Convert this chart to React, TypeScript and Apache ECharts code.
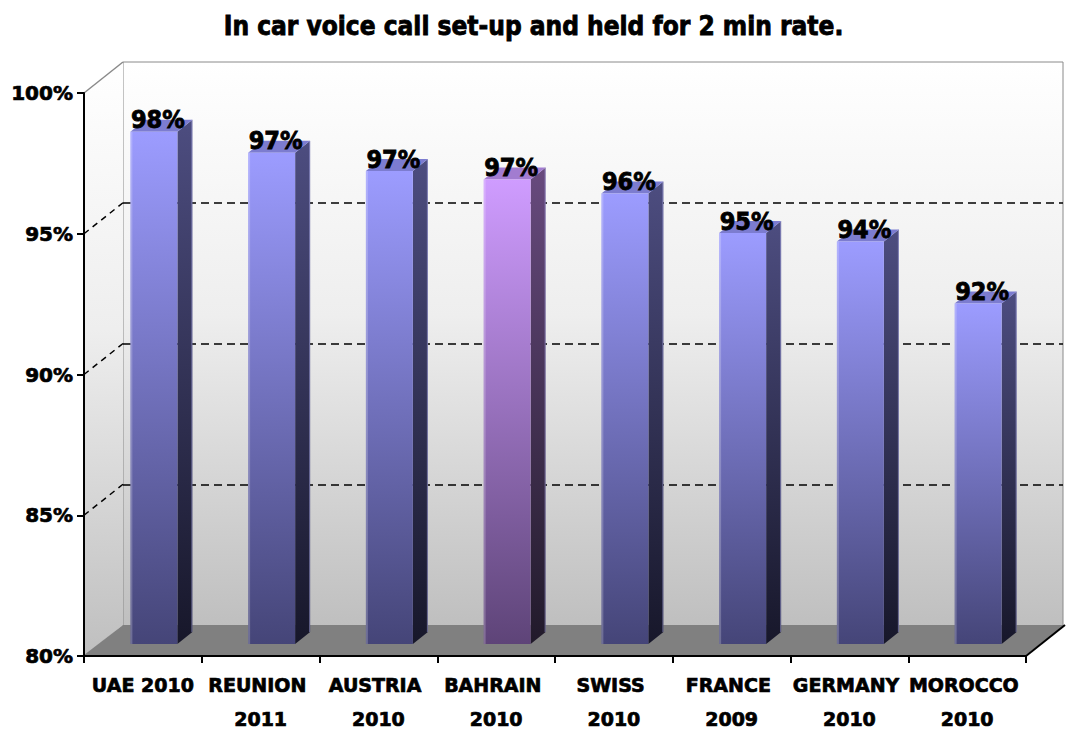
import { useEffect, useRef } from "react";
import * as echarts from "echarts";

const TITLE = "In car voice call set-up and held for 2 min rate.";
const categories = [
  "UAE 2010",
  "REUNION 2011",
  "AUSTRIA 2010",
  "BAHRAIN 2010",
  "SWISS 2010",
  "FRANCE 2009",
  "GERMANY 2010",
  "MOROCCO 2010",
];
const values = [98.2, 97.45, 96.8, 96.5, 96.0, 94.6, 94.3, 92.1];
const highlighted = [false, false, false, true, false, false, false, false];
const Y_MIN = 80;
const Y_MAX = 100;
const Y_STEP = 5;
const wallTicks = [85, 90, 95];

// 3D layout constants (oblique projection)
const DX = 39; // depth of the chart box
const DY = -31;
const BX = 11; // bar front plane offset
const BY = -12;
const BW = 47; // bar front width
const BDX = 15; // bar depth
const BDY = -12;

const PALETTE = {
  normal: { frontTop: "#9c9cff", frontBottom: "#454578", sideTop: "#4d4d80", sideBottom: "#17172a", top: "#7c7cd0" },
  hi: { frontTop: "#cf9cff", frontBottom: "#5e4478", sideTop: "#684a7e", sideBottom: "#211a2a", top: "#a27cd0" },
};

const FONT = "DejaVu Sans";
const FONT_C = "DejaVu Sans Condensed";

export default function App() {
  const ref = useRef<HTMLDivElement>(null);
  useEffect(() => {
    if (!ref.current) return;
    const chart = echarts.init(ref.current, undefined, { renderer: "svg" });
    const lg = (a: string, b: string) =>
      new echarts.graphic.LinearGradient(0, 0, 0, 1, [
        { offset: 0, color: a },
        { offset: 1, color: b },
      ]);
    const wallGrad = () =>
      new echarts.graphic.LinearGradient(0, 0, 0, 1, [
        { offset: 0, color: "#ffffff" },
        { offset: 0.45, color: "#eeeeee" },
        { offset: 1, color: "#bfbfbf" },
      ]);

    chart.setOption({
      animation: false,
      backgroundColor: "#ffffff",
      title: {
        text: TITLE,
        left: "center",
        top: 8,
        textStyle: {
          fontFamily: FONT_C,
          fontWeight: "bold",
          fontSize: 26,
          color: "#000",
          textBorderColor: "#000",
          textBorderWidth: 0.8,
        },
      },
      grid: [
        { left: 84, top: 93, width: 942, height: 564, containLabel: false },
        {
          left: 123,
          top: 62,
          width: 940,
          height: 564,
          show: true,
          backgroundColor: wallGrad(),
          borderColor: "#8a8a8a",
          borderWidth: 1,
        },
      ],
      xAxis: [
        {
          type: "category",
          gridIndex: 0,
          data: categories,
          z: 10,
          axisLine: { show: true, lineStyle: { color: "#000", width: 2 } },
          axisTick: { show: true, length: 7, lineStyle: { color: "#000", width: 2 } },
          axisLabel: {
            interval: 0,
            width: 118,
            overflow: "break",
            lineHeight: 34,
            margin: 12,
            color: "#000",
            fontFamily: FONT,
            fontWeight: "bold",
            fontSize: 19,
            textBorderColor: "#000",
            textBorderWidth: 0.7,
          },
          splitLine: { show: false },
        },
        { type: "category", gridIndex: 1, data: categories, show: false },
      ],
      yAxis: [
        {
          type: "value",
          gridIndex: 0,
          min: Y_MIN,
          max: Y_MAX,
          interval: Y_STEP,
          z: 10,
          axisLine: { show: true, lineStyle: { color: "#000", width: 2 } },
          axisTick: { show: true, length: 7, lineStyle: { color: "#000", width: 2 } },
          axisLabel: {
            formatter: "{value}%",
            margin: 11,
            color: "#000",
            fontFamily: FONT,
            fontWeight: "bold",
            fontSize: 20,
            textBorderColor: "#000",
            textBorderWidth: 0.7,
          },
          splitLine: { show: false },
        },
        {
          type: "value",
          gridIndex: 1,
          min: Y_MIN,
          max: Y_MAX,
          interval: Y_STEP,
          axisLine: { show: false },
          axisTick: { show: false },
          axisLabel: { show: false },
          splitLine: {
            show: true,
            showMinLine: false,
            showMaxLine: false,
            lineStyle: { color: "#000", width: 1.5, type: [8, 5] },
          },
        },
      ],
      series: [
        {
          type: "custom",
          name: "frame",
          xAxisIndex: 0,
          yAxisIndex: 0,
          z: 1,
          clip: false,
          silent: true,
          data: [[0, Y_MIN]],
          renderItem: (params: any, api: any) => {
            const cs = params.coordSys;
            const x = cs.x, y = cs.y, w = cs.width, h = cs.height;
            const children: any[] = [];
            children.push({
              type: "polygon",
              shape: { points: [[x, y], [x + DX, y + DY], [x + DX, y + h + DY], [x, y + h]] },
              style: { fill: wallGrad() },
            });
            children.push({
              type: "polygon",
              shape: { points: [[x, y + h - 1], [x + w, y + h - 1], [x + w + DX, y + h + DY], [x + DX, y + h + DY]] },
              style: { fill: "#808080" },
            });
            children.push({
              type: "line",
              shape: { x1: x, y1: y, x2: x + DX, y2: y + DY },
              style: { stroke: "#8a8a8a", lineWidth: 1.5 },
            });
            wallTicks.forEach((t) => {
              const py = api.coord([0, t])[1];
              children.push({
                type: "line",
                shape: { x1: x, y1: py, x2: x + DX, y2: py + DY },
                style: { stroke: "#000", lineWidth: 1.5, lineDash: [6, 5] },
              });
            });
            children.push({
              type: "line",
              shape: { x1: x + w, y1: y + h, x2: x + w + DX, y2: y + h + DY },
              style: { stroke: "#000", lineWidth: 2 },
            });
            return { type: "group", children };
          },
        },
        {
          type: "custom",
          name: "rate",
          xAxisIndex: 0,
          yAxisIndex: 0,
          z: 3,
          clip: false,
          encode: { x: 0, y: 1 },
          data: values.map((v, i) => [i, v]),
          renderItem: (params: any, api: any) => {
            const i = api.value(0);
            const v = api.value(1);
            const base = api.coord([i, Y_MIN]);
            const top = api.coord([i, v]);
            const cx = base[0] + BX;
            const yb = base[1] + BY;
            const yt = top[1] + BY;
            const l = cx - BW / 2;
            const r = cx + BW / 2;
            const p = highlighted[i] ? PALETTE.hi : PALETTE.normal;
            return {
              type: "group",
              children: [
                {
                  type: "polygon",
                  shape: { points: [[r, yt], [r + BDX, yt + BDY], [r + BDX, yb + BDY], [r, yb]] },
                  style: { fill: lg(p.sideTop, p.sideBottom) },
                },
                {
                  type: "line",
                  shape: { x1: r + BDX - 0.5, y1: yt + BDY, x2: r + BDX - 0.5, y2: yb + BDY },
                  style: { stroke: "rgba(170,170,230,0.55)", lineWidth: 1 },
                },
                {
                  type: "polygon",
                  shape: { points: [[l, yt], [r, yt], [r + BDX, yt + BDY], [l + BDX, yt + BDY]] },
                  style: { fill: p.top },
                },
                {
                  type: "rect",
                  shape: { x: l, y: yt, width: BW, height: yb - yt },
                  style: { fill: lg(p.frontTop, p.frontBottom) },
                },
                {
                  type: "rect",
                  shape: { x: l, y: yt, width: 2, height: yb - yt },
                  style: { fill: "rgba(255,255,255,0.22)" },
                },
                {
                  type: "text",
                  style: {
                    text: Math.round(v) + "%",
                    x: cx + 4,
                    y: yt - 12,
                    align: "center",
                    verticalAlign: "middle",
                    fill: "#000",
                    stroke: "#000",
                    lineWidth: 0.8,
                    fontFamily: FONT_C,
                    fontWeight: "bold",
                    fontSize: 25,
                  },
                },
              ],
            };
          },
        },
      ],
    });
    return () => chart.dispose();
  }, []);
  return (
    <div
      ref={ref}
      style={{ position: "fixed", left: 0, top: 0, width: 1067, height: 736, background: "#fff" }}
    />
  );
}
